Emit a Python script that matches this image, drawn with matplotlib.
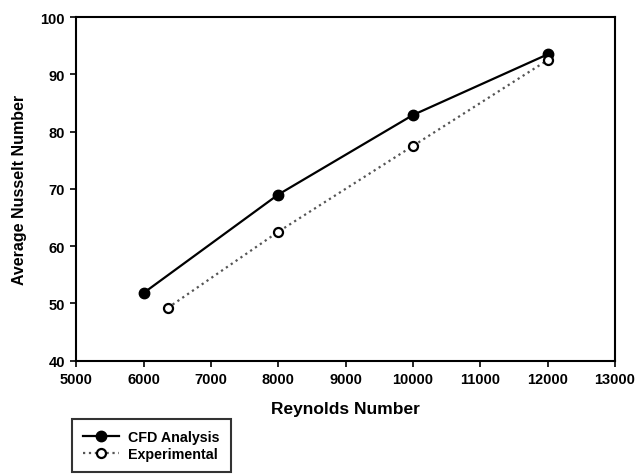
import matplotlib
matplotlib.use("Agg")
import matplotlib.pyplot as plt

plt.rcParams['font.family'] = ['Liberation Sans', 'DejaVu Sans']
plt.rcParams['font.weight'] = 'bold'

cfd_re = [6000, 8000, 10000, 12000]
cfd_nu = [51.8, 69.0, 82.9, 93.5]
exp_re = [6360, 8000, 10000, 12000]
exp_nu = [49.2, 62.5, 77.5, 92.5]
xticks = [5000, 6000, 7000, 8000, 9000, 10000, 11000, 12000, 13000]
yticks = [40, 50, 60, 70, 80, 90, 100]

fig = plt.figure(figsize=(6.4, 4.77), dpi=100)
ax = fig.add_axes([0.119, 0.242, 0.842, 0.720])

l1, = ax.plot(cfd_re, cfd_nu, '-', color='black', lw=1.6, marker='o', ms=7.5,
              mfc='black', mec='black', label='CFD Analysis')
l2, = ax.plot(exp_re, exp_nu, ':', color='#555555', lw=1.6, marker='o', ms=6.5,
              mfc='white', mec='black', mew=1.6, label='Experimental')

ax.set_xlim(5000, 13000)
ax.set_ylim(40, 100)
ax.set_xticks(xticks)
ax.set_yticks(yticks)
ax.tick_params(direction='out', length=4, width=1.2, labelsize=10.5, pad=4)
for lab in ax.get_xticklabels() + ax.get_yticklabels():
    lab.set_fontweight('bold')
for s in ax.spines.values():
    s.set_linewidth(1.5)
ax.set_xlabel('Reynolds Number', fontsize=12.5, fontweight='bold', labelpad=11)
ax.set_ylabel('Average Nusselt Number', fontsize=11.5, fontweight='bold', labelpad=10)

leg = fig.legend(handles=[l1, l2], loc='lower left', bbox_to_anchor=(72/640, 4/477),
                 borderaxespad=0, frameon=True, fancybox=False, edgecolor='black',
                 handlelength=2.5, handletextpad=0.6, borderpad=0.8, labelspacing=0.15,
                 prop={'weight': 'bold', 'size': 10.3})
leg.get_frame().set_linewidth(1.5)

fig.savefig('out.png', dpi=100)
